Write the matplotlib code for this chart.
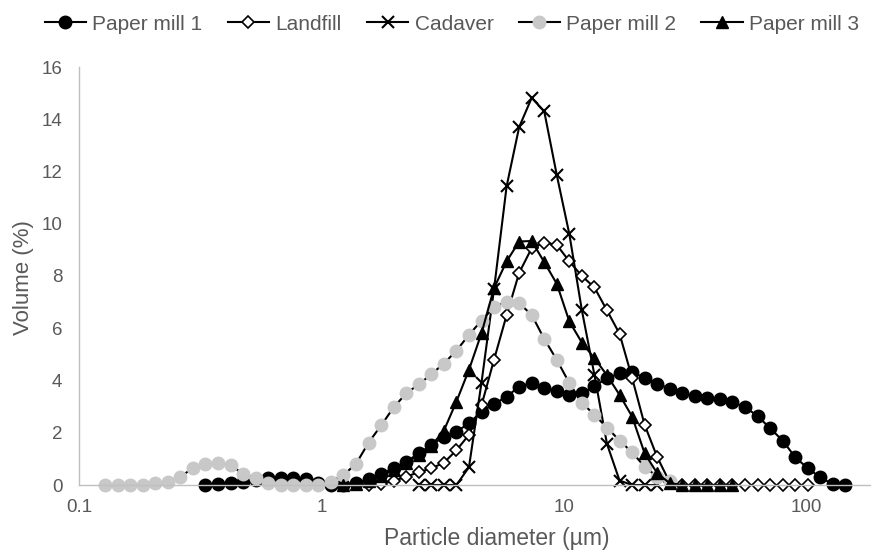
import matplotlib
matplotlib.use('Agg')
import matplotlib.pyplot as plt
from matplotlib.ticker import NullLocator

# particle size classes (µm)
size_um = [0.128, 0.1442, 0.1624, 0.1830, 0.2061, 0.2322, 0.2616, 0.2947, 0.3320, 0.3740,
           0.4213, 0.4746, 0.5346, 0.6022, 0.6784, 0.7642, 0.8609, 0.9698, 1.0925, 1.2307,
           1.3864, 1.5618, 1.7594, 1.9820, 2.2327, 2.5151, 2.8333, 3.1917, 3.5955, 4.0503,
           4.5627, 5.1399, 5.7901, 6.5226, 7.3477, 8.2772, 9.3243, 10.504, 11.833, 13.330,
           15.016, 16.916, 19.056, 21.466, 24.182, 27.241, 30.687, 34.569, 38.942, 43.868,
           49.418, 55.669, 62.711, 70.644, 79.581, 89.648, 100.99, 113.76, 128.15, 144.37,
           162.63]

# volume (%) per series, each starting at its first size class
paper_mill_1 = [0.0, 0.03, 0.06, 0.13, 0.19, 0.26, 0.28, 0.26, 0.22, 0.06,
                0.0, 0.0, 0.09, 0.22, 0.42, 0.64, 0.89, 1.21, 1.53, 1.85,
                2.04, 2.36, 2.81, 3.10, 3.38, 3.77, 3.90, 3.73, 3.60, 3.46,
                3.51, 3.79, 4.08, 4.28, 4.34, 4.08, 3.88, 3.68, 3.51, 3.41,
                3.34, 3.28, 3.17, 2.98, 2.64, 2.17, 1.70, 1.06, 0.64, 0.29,
                0.03, 0.0]
landfill = [0.0, 0.05, 0.15, 0.32, 0.49, 0.64, 0.85, 1.33, 1.92, 3.05,
            4.80, 6.50, 8.12, 9.07, 9.28, 9.19, 8.56, 8.00, 7.56, 6.68,
            5.79, 4.10, 2.30, 1.07, 0.10, 0, 0, 0, 0, 0,
            0, 0, 0, 0, 0, 0]
cadaver = [0, 0, 0, 0, 0.68, 3.92, 7.5, 11.43, 13.70, 14.82,
           14.30, 11.86, 9.60, 6.68, 4.21, 1.57, 0.17, 0, 0, 0]
paper_mill_2 = [0, 0, 0, 0, 0.06, 0.13, 0.32, 0.64, 0.80, 0.85,
                0.77, 0.42, 0.26, 0.06, 0, 0, 0, 0, 0.13, 0.38,
                0.81, 1.62, 2.28, 2.97, 3.51, 3.85, 4.24, 4.65, 5.14, 5.75,
                6.29, 6.81, 7.02, 6.96, 6.51, 5.59, 4.79, 3.90, 3.15, 2.68,
                2.20, 1.70, 1.25, 0.70, 0.32, 0.15]
paper_mill_3 = [0.0, 0.05, 0.15, 0.35, 0.58, 0.85, 1.15, 1.50, 2.08, 3.19,
                4.41, 5.81, 7.54, 8.56, 9.32, 9.34, 8.53, 7.70, 6.26, 5.45,
                4.85, 4.20, 3.45, 2.62, 1.21, 0.45, 0.07, 0, 0, 0,
                0, 0]

x_ticks = [0.1, 1, 10, 100]
x_tick_labels = ['0.1', '1', '10', '100']

plt.rcParams['font.family'] = ['Liberation Sans', 'DejaVu Sans']
text_grey = '#595959'
axis_grey = '#BFBFBF'
light_grey = '#C8C8C8'

fig = plt.figure(figsize=(8.71, 5.54), dpi=100)
ax = fig.add_axes([79 / 871, 1 - 485 / 554, 792 / 871, 418 / 554])

ax.plot(size_um[8:8 + len(paper_mill_1)], paper_mill_1, color='black', lw=1.5,
        marker='o', ms=9, mfc='black', mec='black', label='Paper mill 1', clip_on=False)
ax.plot(size_um[21:21 + len(landfill)], landfill, color='black', lw=1.5,
        marker='D', ms=6, mfc='white', mec='black', mew=1.2, label='Landfill', clip_on=False)
ax.plot(size_um[25:25 + len(cadaver)], cadaver, color='black', lw=1.5,
        marker='x', ms=8, mec='black', mew=1.5, label='Cadaver', clip_on=False)
ax.plot(size_um[0:len(paper_mill_2)], paper_mill_2, color='black', lw=1.5,
        marker='o', ms=9, mfc=light_grey, mec=light_grey, label='Paper mill 2', clip_on=False)
ax.plot(size_um[19:19 + len(paper_mill_3)], paper_mill_3, color='black', lw=1.5,
        marker='^', ms=8, mfc='black', mec='black', label='Paper mill 3', clip_on=False)

ax.set_xscale('log')
ax.set_xlim(0.1, 184)
ax.set_ylim(0, 16)
ax.set_xticks(x_ticks)
ax.set_xticklabels(x_tick_labels)
ax.xaxis.set_minor_locator(NullLocator())
ax.set_yticks(range(0, 17, 2))
ax.tick_params(axis='both', length=0, labelsize=13.5, labelcolor=text_grey)
ax.tick_params(axis='x', pad=10)
ax.tick_params(axis='y', pad=12)

for side in ['top', 'right']:
    ax.spines[side].set_visible(False)
for side in ['left', 'bottom']:
    ax.spines[side].set_color(axis_grey)
    ax.spines[side].set_linewidth(1.0)

ax.set_xlabel('Particle diameter (µm)', fontsize=16.5, color=text_grey)
ax.xaxis.label.set_va('center')
ax.xaxis.set_label_coords((497 - 79) / 792, (485 - 539) / 418)
ax.set_ylabel('Volume (%)', fontsize=16, color=text_grey)
ax.yaxis.label.set_va('center')
ax.yaxis.set_label_coords((23 - 79) / 792, (485 - 278) / 418)

fig.legend(loc='center', bbox_to_anchor=(452 / 871, 1 - 24 / 554), ncol=5,
           frameon=False, fontsize=15, labelcolor=text_grey, handlelength=2.0,
           handletextpad=0.3, columnspacing=1.2, borderpad=0)

fig.savefig('out.png', dpi=100)
plt.close(fig)
